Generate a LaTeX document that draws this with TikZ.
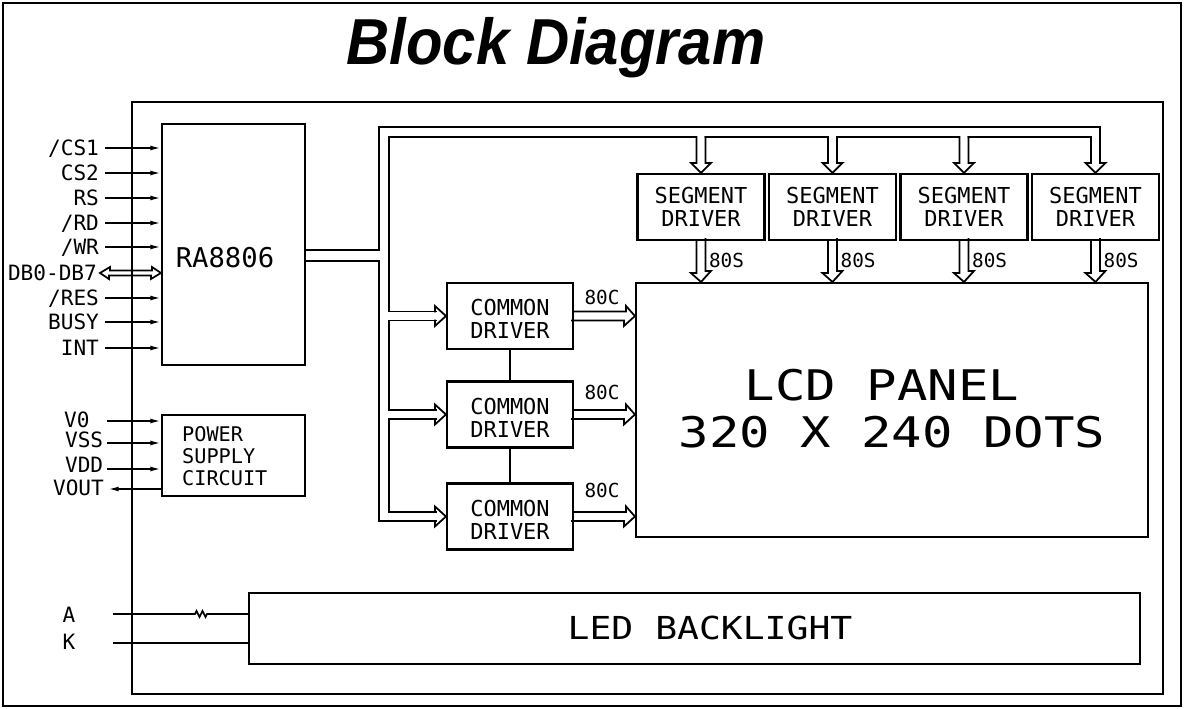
\documentclass[tikz,border=0pt]{standalone}
\usepackage{fontspec}
\usepackage{graphicx}
\usetikzlibrary{arrows.meta,fit}
\newfontfamily\titlefont{Liberation Sans}
\newfontfamily\cadfont{DejaVu Sans Mono}

\tikzset{
  box/.style={draw, line width=1.2pt, inner sep=0pt},
  boxtext/.style={align=center, inner sep=0pt, font=\cadfont\fontsize{12.5}{13}\selectfont},
  bus/.style={line width=1pt, line cap=rect, line join=miter},
  sig/.style={line width=1pt, -{Latex[length=6pt,width=2.8pt]}},
  pinlabel/.style={font=\cadfont\fontsize{12}{12}\selectfont, inner sep=1pt,
    text height=8.7pt, text depth=0pt},
  wirelabel/.style={font=\cadfont\fontsize{11}{11}\selectfont, inner sep=1pt,
    text height=8pt, text depth=0pt},
}

\begin{document}
\begin{tikzpicture}[x=0.02cm, y=-0.02cm]
    \useasboundingbox (0,0) rectangle (1184,709);
    % frames and title
    \draw[line width=0.9pt] (3,3) rectangle (1181,706);
    \draw[line width=1.2pt] (132,102) rectangle (1163,694);
    \node[font=\titlefont\bfseries\itshape\fontsize{37}{37}\selectfont, anchor=base] (title) at (556,65) {\scalebox{0.92}[1]{Block Diagram}};

    % controller
    \node[box, fit={(162,124) (305,365)}] (ra) {};
    \node[font=\cadfont\fontsize{15.5}{15.5}\selectfont] (ratext) at (225,258) {RA8806};
    \foreach \name/\y [count=\i] in {{/CS1}/148, CS2/173, RS/198, {/RD}/223, {/WR}/247, {/RES}/298, BUSY/322, INT/348} {
        \node[pinlabel, anchor=east] (pin\i) at (101,\y) {\name};
        \coordinate (s\i) at (105,\y);
        \draw[sig] (s\i) -- (s\i -| ra.west);
    }
    % data bus
    \node[pinlabel, anchor=east] (dblabel) at (99,273) {DB0-DB7};
    \coordinate (db) at (100,273);
    \draw[bus, line cap=butt] (db) -- ++(10,-6) -- ++(0,3.5) -- ++(42,0) -- ++(0,-3.5) -- (db -| ra.west)
        -- ++(-10,6) -- ++(0,-3.5) -- ++(-42,0) -- ++(0,3.5) -- cycle;

    % power supply
    \node[box, fit={(162,415) (305,496)}] (psu) {};
    \node[anchor=west, align=left, font=\cadfont\fontsize{11.5}{12.5}\selectfont] (psutext) at (176,456) {POWER\\SUPPLY\\CIRCUIT};
    \foreach \name/\x/\ly/\y [count=\i] in {V0/62/420/421, VSS/63/440/443, VDD/63/465/469} {
        \node[pinlabel, anchor=west] (vl\i) at (\x,\ly) {\name};
        \coordinate (v\i) at (107,\y);
        \draw[sig] (v\i) -- (v\i -| psu.west);
    }
    \node[pinlabel, anchor=west] (vl4) at (51,488) {VOUT};
    \coordinate (vout) at (108,489);
    \draw[sig] (vout -| psu.west) -- (vout);

    % panel
    \node[box, fit={(636,283) (1148,537)}] (lcd) {};
    \node[font=\cadfont\fontsize{24}{24}\selectfont, text height=17.5pt, text depth=0pt] (lcd1) at (882,385) {\scalebox{1.2}[1]{LCD PANEL}};
    \node[font=\cadfont\fontsize{24}{24}\selectfont, text height=17.5pt, text depth=0pt] (lcd2) at (892,432) {\scalebox{1.2}[1]{320 X 240 DOTS}};

    % segment drivers
    \foreach \cx [count=\i, remember=\cx as \lastcx (initially 384.5)] in {701,832.5,964,1095.5} {
        \node[box, fit={(\cx-63.5,174) (\cx+63.5,240)}] (sd\i) {};
        \node[boxtext] (sdtext\i) at (\cx,207) {SEGMENT\\DRIVER};
        \draw[bus] (\lastcx+4.5,137) -- (\cx-4.5,137) -- (\cx-4.5,163) -- (\cx-10,163) -- (sd\i.north)
            -- (\cx+10,163) -- (\cx+4.5,163) -- (\cx+4.5,137);
        \draw[bus] (sd\i.south) ++(-4.5,0) -- ++(0,32) -- ++(-5.5,0) -- (sd\i.south |- lcd.north)
            -- ++(10,-11) -- ++(-5.5,0) -- ++(0,-32);
        \node[wirelabel, anchor=west] (seg\i) at (\cx+6,260) {80S};
    }

    % common drivers
    \foreach \cy/\ty [count=\i] in {316/297, 414.5/392, 516.5/490} {
        \node[box, fit={(447,\cy-33) (573,\cy+33)}] (cd\i) {};
        \node[boxtext] (cdtext\i) at (510,\cy+3) {COMMON\\DRIVER};
        \draw[bus] (cd\i.west) ++(-11,-4.5) -- ++(0,-5.5) -- (cd\i.west) -- ++(-11,10) -- ++(0,-5.5);
        \draw[bus] (cd\i.east) ++(0,-4.5) -- ++(52,0) -- ++(0,-5.5) -- (cd\i.east -| lcd.west)
            -- ++(-11,10) -- ++(0,-5.5) -- ++(-52,0);
        \node[wirelabel] (com\i) at (602,\ty) {80C};
    }
    \draw[line width=1pt] (cd1) -- (cd2) (cd2) -- (cd3);

    % controller bus
    \draw[bus] (ra.east |- 0,250) -- (379,250) -- (379,127) -- (1100,127) -- (1100,137);
    \draw[bus] (ra.east |- 0,261) -- (379,261) -- (379,521) -- (436,521);
    \draw[bus] (389,137) -- (389,311.5) -- (436,311.5);
    \draw[bus] (436,320.5) -- (389,320.5) -- (389,410) -- (436,410);
    \draw[bus] (436,419) -- (389,419) -- (389,512) -- (436,512);

    % backlight
    \node[box, fit={(249,593) (1140,664)}] (led) {};
    \node[font=\cadfont\fontsize{18}{18}\selectfont, text height=13.1pt, text depth=0pt] (ledtext) at (710,628) {\scalebox{1.15}[1]{LED BACKLIGHT}};
    \node[pinlabel] (pa) at (69,615) {A};
    \node[pinlabel] (pk) at (69,642) {K};
    \coordinate (a0) at (113,614);
    \coordinate (k0) at (113,643);
    \draw[line width=1pt] (a0) -- (195,614) -- ++(1.5,-3) -- ++(3,6) -- ++(3,-6) -- ++(3,6) -- (207,614) -- (a0 -| led.west);
    \draw[line width=1pt] (k0) -- (k0 -| led.west);
\end{tikzpicture}
\end{document}
